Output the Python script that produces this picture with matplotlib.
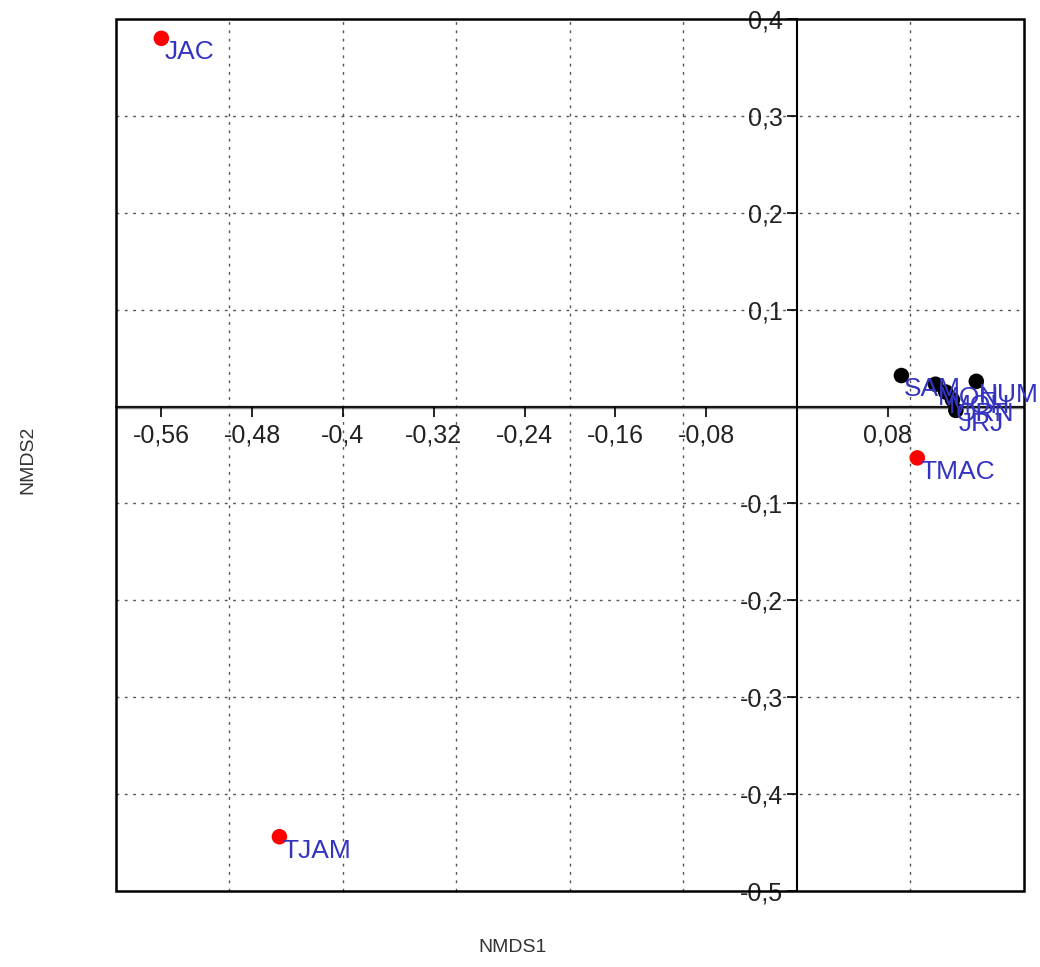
import numpy as np
import matplotlib
matplotlib.use("Agg")
import matplotlib.pyplot as plt
from matplotlib.patches import Rectangle
from matplotlib.ticker import FuncFormatter

plt.rcParams['font.family'] = ['Liberation Sans', 'DejaVu Sans']

# NMDS scores
names = ['JAC', 'TJAM', 'TMAC', 'SAM', 'MON', 'MOH', 'ORN', 'JRJ', 'HUM']
nmds1 = [-0.560, -0.456, 0.106, 0.092, 0.122, 0.131, 0.137, 0.140, 0.158]
nmds2 = [0.380, -0.444, -0.053, 0.032, 0.023, 0.015, 0.007, -0.004, 0.026]
colors = ['red', 'red', 'red', 'black', 'black', 'black', 'black', 'black', 'black']

xticks = [-0.56, -0.48, -0.4, -0.32, -0.24, -0.16, -0.08, 0.08]
yticks = [0.4, 0.3, 0.2, 0.1, -0.1, -0.2, -0.3, -0.4, -0.5]
xgrid = [-0.5, -0.4, -0.3, -0.2, -0.1, 0.1]
ygrid = [0.3, 0.2, 0.1, -0.1, -0.2, -0.3, -0.4]

fig = plt.figure(figsize=(10.4, 9.67), dpi=100)
ax = fig.add_axes([0.1115, 0.0786, 0.8731, 0.9018])
ax.set_xlim(-0.6, 0.2)
ax.set_ylim(-0.5, 0.4)

# dotted grid at 0.1 steps (not at tick positions)
for g in xgrid:
    ax.axvline(g, color='#555555', ls=(0, (2, 4)), lw=1, zorder=0)
for g in ygrid:
    ax.axhline(g, color='#555555', ls=(0, (2, 4)), lw=1, zorder=0)
ax.axhline(0, color='#888888', lw=2.5, zorder=1)

for sp in ['top', 'right']:
    ax.spines[sp].set_visible(False)
ax.spines['left'].set_position(('data', 0))
ax.spines['bottom'].set_position(('data', 0))
ax.spines['left'].set_linewidth(1.5)
ax.spines['bottom'].set_linewidth(1.2)
ax.add_patch(Rectangle((0, 0), 1, 1, transform=ax.transAxes, fill=False,
                       ec='black', lw=1.8, clip_on=False, zorder=5))

fmt = FuncFormatter(lambda v, p: ('%g' % v).replace('.', ','))
ax.set_xticks(xticks)
ax.set_yticks(yticks)
ax.xaxis.set_major_formatter(fmt)
ax.yaxis.set_major_formatter(fmt)
ax.tick_params(axis='both', direction='out', length=7, width=1.2,
               labelsize=18, colors='black', labelcolor='#222222')
ax.tick_params(axis='x', pad=5)
ax.tick_params(axis='y', pad=3)

ax.scatter(nmds1, nmds2, c=colors, s=125, zorder=6, edgecolors='none')
for n, x, y in zip(names, nmds1, nmds2):
    ax.annotate(n, (x, y), xytext=(2, -10), textcoords='offset points',
                ha='left', va='center', color='#3434c0', fontsize=19, zorder=7)

fig.text(0.493, 0.02, 'NMDS1', ha='center', va='center', fontsize=14, color='#333333')
fig.text(0.027, 0.525, 'NMDS2', ha='center', va='center', rotation=90,
         fontsize=14, color='#333333')

fig.savefig('out.png', dpi=100)
